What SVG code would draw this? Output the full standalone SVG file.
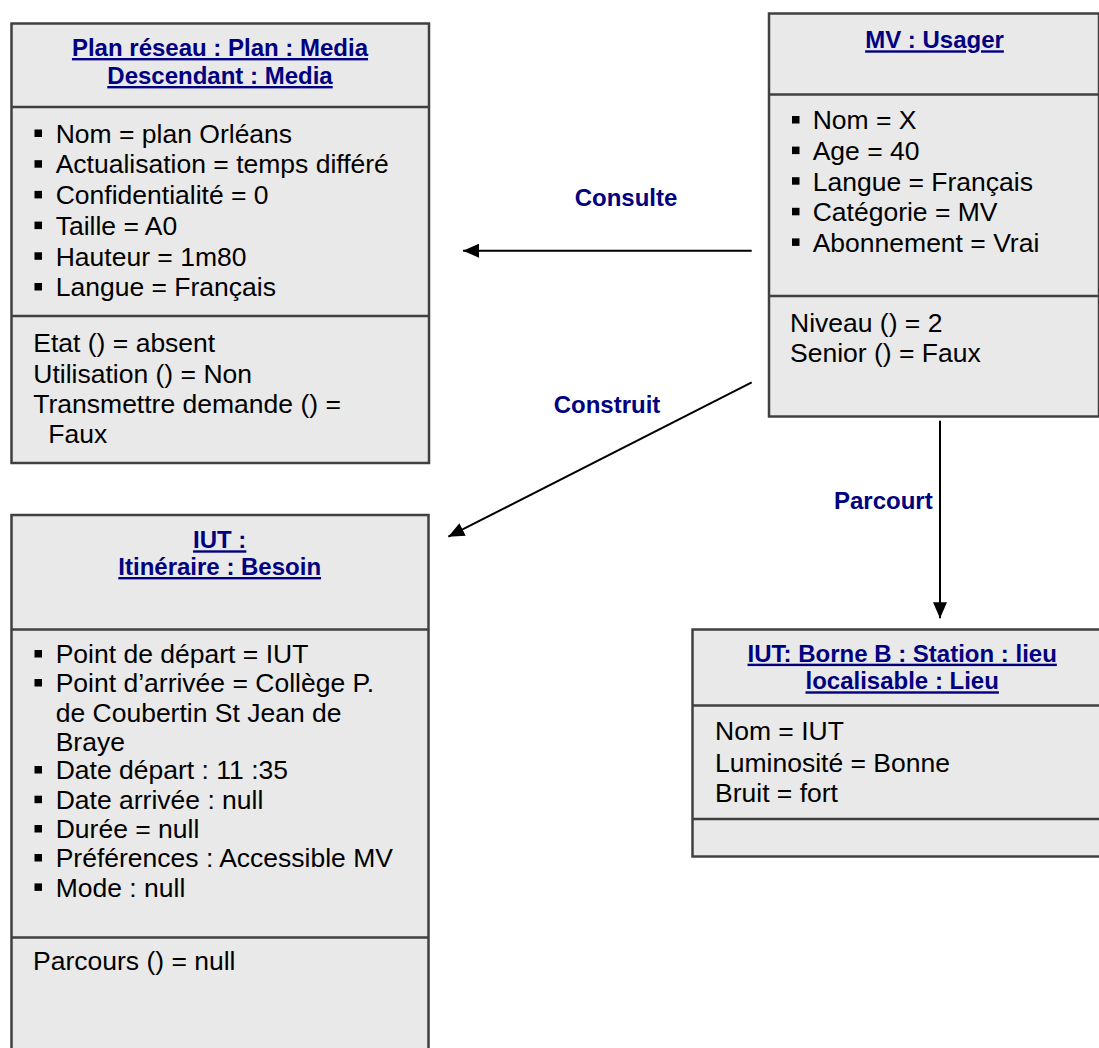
<svg xmlns="http://www.w3.org/2000/svg" width="1099" height="1048" viewBox="0 0 1099 1048">
<defs>
<style>
.box{fill:#e9e9e9;stroke:#404040;stroke-width:2.5}
.div{stroke:#404040;stroke-width:2.5}
.title{font-family:"Liberation Sans",Arial,sans-serif;font-weight:bold;font-size:24px;fill:#000080;text-decoration:underline;text-anchor:middle}
.lbl{font-family:"Liberation Sans",Arial,sans-serif;font-weight:bold;font-size:24px;fill:#000080;text-anchor:middle}
.txt{font-family:"Liberation Sans",Arial,sans-serif;font-size:26.5px;fill:#000}
.bul{fill:#000}
.conn{stroke:#000;stroke-width:2;fill:none}
</style>
<marker id="arr" viewBox="0 0 16 14" refX="16" refY="7" markerWidth="16" markerHeight="14" markerUnits="userSpaceOnUse" orient="auto">
<path d="M0,0 L16,7 L0,14 z" fill="#000"/>
</marker>
</defs>
<rect width="1099" height="1048" fill="#fff"/>

<g id="plan-reseau">
<rect class="box" x="11.5" y="23.5" width="417.5" height="439.5"/>
<line class="div" x1="11.5" y1="107" x2="429" y2="107"/>
<line class="div" x1="11.5" y1="316" x2="429" y2="316"/>
<text class="title" x="220" y="56">Plan réseau : Plan : Media</text>
<text class="title" x="220" y="84">Descendant : Media</text>
<rect class="bul" x="34.5" y="129.5" width="7.5" height="7.5"/>
<rect class="bul" x="34.5" y="160.2" width="7.5" height="7.5"/>
<rect class="bul" x="34.5" y="190.9" width="7.5" height="7.5"/>
<rect class="bul" x="34.5" y="221.6" width="7.5" height="7.5"/>
<rect class="bul" x="34.5" y="252.3" width="7.5" height="7.5"/>
<rect class="bul" x="34.5" y="283" width="7.5" height="7.5"/>
<text class="txt" x="55.7" y="142.7">Nom = plan Orléans</text>
<text class="txt" x="55.7" y="173.4">Actualisation = temps différé</text>
<text class="txt" x="55.7" y="204.1">Confidentialité = 0</text>
<text class="txt" x="55.7" y="234.8">Taille = A0</text>
<text class="txt" x="55.7" y="265.5">Hauteur = 1m80</text>
<text class="txt" x="55.7" y="296.2">Langue = Français</text>
<text class="txt" x="33.3" y="351.7">Etat () = absent</text>
<text class="txt" x="33.3" y="382.7">Utilisation () = Non</text>
<text class="txt" x="33.3" y="413.3">Transmettre demande () =</text>
<text class="txt" x="48.3" y="443.3">Faux</text>
</g>

<g id="mv-usager">
<rect class="box" x="769" y="13.5" width="330" height="403"/>
<line class="div" x1="769" y1="94.5" x2="1099" y2="94.5"/>
<line class="div" x1="769" y1="296" x2="1099" y2="296"/>
<text class="title" x="934.5" y="48.3">MV : Usager</text>
<rect class="bul" x="792" y="116" width="7.5" height="7.5"/>
<rect class="bul" x="792" y="146.6" width="7.5" height="7.5"/>
<rect class="bul" x="792" y="177.2" width="7.5" height="7.5"/>
<rect class="bul" x="792" y="207.8" width="7.5" height="7.5"/>
<rect class="bul" x="792" y="238.4" width="7.5" height="7.5"/>
<text class="txt" x="812.7" y="129.3">Nom = X</text>
<text class="txt" x="812.7" y="160">Age = 40</text>
<text class="txt" x="812.7" y="190.7">Langue = Français</text>
<text class="txt" x="812.7" y="221.3">Catégorie = MV</text>
<text class="txt" x="812.7" y="251.9">Abonnement = Vrai</text>
<text class="txt" x="790" y="331.7">Niveau () = 2</text>
<text class="txt" x="790" y="361.7">Senior () = Faux</text>
</g>

<g id="iut-itineraire">
<rect class="box" x="11.5" y="515" width="417" height="600"/>
<line class="div" x1="11.5" y1="629.5" x2="428.5" y2="629.5"/>
<line class="div" x1="11.5" y1="937.5" x2="428.5" y2="937.5"/>
<text class="title" x="219.7" y="548.3">IUT :</text>
<text class="title" x="219.7" y="575">Itinéraire : Besoin</text>
<rect class="bul" x="34.5" y="650" width="7.5" height="7.5"/>
<rect class="bul" x="34.5" y="679" width="7.5" height="7.5"/>
<rect class="bul" x="34.5" y="766" width="7.5" height="7.5"/>
<rect class="bul" x="34.5" y="795.7" width="7.5" height="7.5"/>
<rect class="bul" x="34.5" y="825" width="7.5" height="7.5"/>
<rect class="bul" x="34.5" y="854" width="7.5" height="7.5"/>
<rect class="bul" x="34.5" y="883.4" width="7.5" height="7.5"/>
<text class="txt" x="55.7" y="663.3">Point de départ = IUT</text>
<text class="txt" x="55.7" y="692.3">Point d’arrivée = Collège P.</text>
<text class="txt" x="55.7" y="721.7">de Coubertin St Jean de</text>
<text class="txt" x="55.7" y="750.7">Braye</text>
<text class="txt" x="55.7" y="779.3">Date départ : 11 :35</text>
<text class="txt" x="55.7" y="809">Date arrivée : null</text>
<text class="txt" x="55.7" y="838.3">Durée = null</text>
<text class="txt" x="55.7" y="867.3">Préférences : Accessible MV</text>
<text class="txt" x="55.7" y="896.7">Mode : null</text>
<text class="txt" x="33" y="970">Parcours () = null</text>
</g>

<g id="iut-borne">
<rect class="box" x="692.5" y="629.5" width="420" height="227"/>
<line class="div" x1="692.5" y1="705.5" x2="1112.5" y2="705.5"/>
<line class="div" x1="692.5" y1="819" x2="1112.5" y2="819"/>
<text class="title" x="902.2" y="661.7">IUT: Borne B : Station : lieu</text>
<text class="title" x="902.2" y="689.3">localisable : Lieu</text>
<text class="txt" x="715" y="740">Nom = IUT</text>
<text class="txt" x="715" y="771.7">Luminosité = Bonne</text>
<text class="txt" x="715" y="801.7">Bruit = fort</text>
</g>

<g id="connectors">
<line class="conn" x1="751.7" y1="250.7" x2="463" y2="250.7" marker-end="url(#arr)"/>
<line class="conn" x1="751.7" y1="382.3" x2="448.3" y2="536.7" marker-end="url(#arr)"/>
<line class="conn" x1="940" y1="420.7" x2="940" y2="618.3" marker-end="url(#arr)"/>
<text class="lbl" x="626" y="205.7">Consulte</text>
<text class="lbl" x="607" y="413.3">Construit</text>
<text class="lbl" x="883.3" y="509">Parcourt</text>
</g>
</svg>
